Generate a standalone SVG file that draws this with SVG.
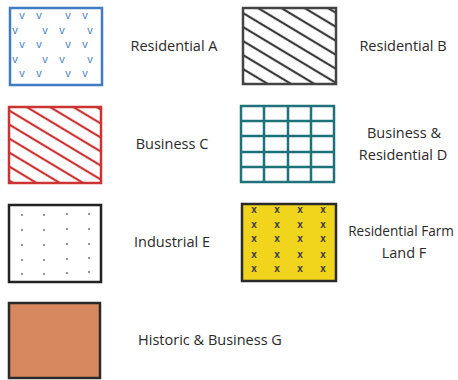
<svg xmlns="http://www.w3.org/2000/svg" width="458" height="380" viewBox="0 0 458 380">
<style>
.lbl{font-family:"Open Sans","Liberation Sans",sans-serif;font-size:14.5px;fill:#2a2a2a;text-anchor:middle}
.box{stroke-width:2.5}
.v{font-family:"Liberation Sans",sans-serif;font-size:11px;fill:#4a7fc1;text-anchor:middle}
.x{font-family:"Liberation Sans",sans-serif;font-size:10px;fill:#334;text-anchor:middle;font-weight:bold}
</style>
<defs>
<pattern id="hatchK" patternUnits="userSpaceOnUse" width="12" height="12" patternTransform="rotate(31)">
<line x1="0" y1="6" x2="12" y2="6" stroke="#3a3a3a" stroke-width="2.2"/>
</pattern>
<pattern id="hatchR" patternUnits="userSpaceOnUse" width="12" height="12" patternTransform="rotate(31)">
<line x1="0" y1="6" x2="12" y2="6" stroke="#cc3333" stroke-width="2.2"/>
</pattern>
</defs>
<rect width="458" height="380" fill="#fff"/>

<g id="resA">
<rect class="box" x="10" y="8" width="92" height="77" fill="#fff" stroke="#3f7cc4"/>
<g>
<text class="v" x="22" y="19">v</text><text class="v" x="39" y="19">v</text><text class="v" x="68" y="19">v</text><text class="v" x="85" y="19">v</text>
<text class="v" x="15" y="34">v</text><text class="v" x="45" y="34">v</text><text class="v" x="62" y="34">v</text><text class="v" x="90" y="34">v</text>
<text class="v" x="22" y="48">v</text><text class="v" x="39" y="48">v</text><text class="v" x="68" y="48">v</text><text class="v" x="85" y="48">v</text>
<text class="v" x="15" y="63">v</text><text class="v" x="45" y="63">v</text><text class="v" x="62" y="63">v</text><text class="v" x="90" y="63">v</text>
<text class="v" x="22" y="77">v</text><text class="v" x="39" y="77">v</text><text class="v" x="68" y="77">v</text><text class="v" x="85" y="77">v</text>
</g>
<text class="lbl" x="174" y="51">Residential A</text>
</g>

<g id="resB">
<rect class="box" x="243" y="8" width="93" height="76" fill="url(#hatchK)" stroke="#444"/>
<text class="lbl" x="403" y="51">Residential B</text>
</g>

<g id="busC">
<rect class="box" x="9" y="107" width="92" height="76" fill="url(#hatchR)" stroke="#cc3333"/>
<text class="lbl" x="172" y="149">Business C</text>
</g>

<g id="busD">
<rect class="box" x="241" y="106" width="93" height="76" fill="#fff" stroke="#1e727a"/>
<g stroke="#1e727a" stroke-width="2.5">
<line x1="264" y1="106" x2="264" y2="182"/><line x1="288" y1="106" x2="288" y2="182"/><line x1="311" y1="106" x2="311" y2="182"/>
<line x1="241" y1="121" x2="334" y2="121"/><line x1="241" y1="136" x2="334" y2="136"/><line x1="241" y1="152" x2="334" y2="152"/><line x1="241" y1="167" x2="334" y2="167"/>
</g>
<text class="lbl" x="404" y="138">Business &amp;</text>
<text class="lbl" x="403" y="160">Residential D</text>
</g>

<g id="indE">
<rect class="box" x="9" y="205" width="92" height="77" fill="#fff" stroke="#222"/>
<g fill="#666">
<circle cx="22" cy="215" r="0.9"/><circle cx="44" cy="215" r="0.9"/><circle cx="67" cy="214" r="0.9"/><circle cx="89" cy="214" r="0.9"/>
<circle cx="22" cy="230" r="0.9"/><circle cx="44" cy="230" r="0.9"/><circle cx="67" cy="229" r="0.9"/><circle cx="89" cy="229" r="0.9"/>
<circle cx="22" cy="245" r="0.9"/><circle cx="44" cy="245" r="0.9"/><circle cx="67" cy="244" r="0.9"/><circle cx="89" cy="244" r="0.9"/>
<circle cx="22" cy="260" r="0.9"/><circle cx="44" cy="260" r="0.9"/><circle cx="67" cy="259" r="0.9"/><circle cx="89" cy="258" r="0.9"/>
<circle cx="22" cy="274" r="0.9"/><circle cx="44" cy="274" r="0.9"/><circle cx="67" cy="273" r="0.9"/><circle cx="89" cy="272" r="0.9"/>
</g>
<text class="lbl" x="172" y="247">Industrial E</text>
</g>

<g id="farmF">
<rect class="box" x="242" y="204" width="94" height="77" fill="#f0d51c" stroke="#2a2a2a"/>
<g>
<text class="x" x="254" y="213">x</text><text class="x" x="277" y="213">x</text><text class="x" x="300" y="213">x</text><text class="x" x="323" y="213">x</text>
<text class="x" x="254" y="228">x</text><text class="x" x="277" y="228">x</text><text class="x" x="300" y="228">x</text><text class="x" x="323" y="228">x</text>
<text class="x" x="254" y="242">x</text><text class="x" x="277" y="242">x</text><text class="x" x="300" y="242">x</text><text class="x" x="323" y="242">x</text>
<text class="x" x="254" y="258">x</text><text class="x" x="277" y="258">x</text><text class="x" x="300" y="258">x</text><text class="x" x="323" y="258">x</text>
<text class="x" x="254" y="272">x</text><text class="x" x="277" y="272">x</text><text class="x" x="300" y="272">x</text><text class="x" x="323" y="272">x</text>
</g>
<text class="lbl" x="401" y="236" style="font-size:13.6px">Residential Farm</text>
<text class="lbl" x="404" y="258">Land F</text>
</g>

<g id="histG">
<rect class="box" x="9" y="303" width="91" height="75" fill="#d8885e" stroke="#2a2a2a"/>
<text class="lbl" x="210" y="345">Historic &amp; Business G</text>
</g>
</svg>
